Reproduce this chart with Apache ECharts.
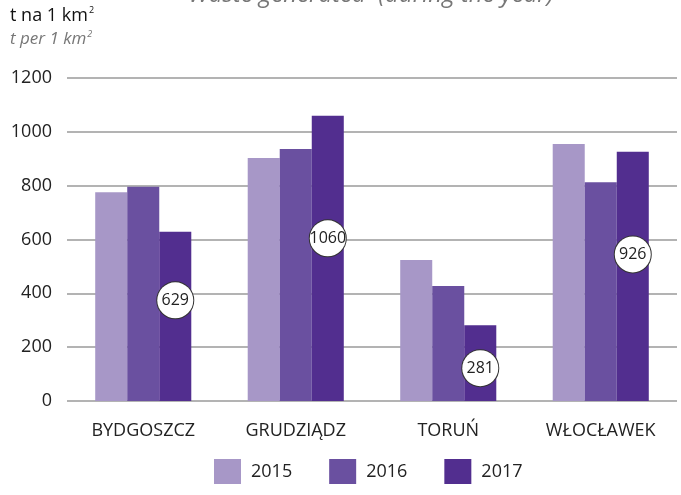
<!DOCTYPE html>
<html><head><meta charset="utf-8">
<script src="https://cdn.jsdelivr.net/npm/echarts@6/dist/echarts.min.js"></script>
<style>html,body{margin:0;padding:0;background:#fff}#c{width:681px;height:495px}</style>
</head><body><div id="c"></div>
<script>
const categories = ['BYDGOSZCZ', 'GRUDZIĄDZ', 'TORUŃ', 'WŁOCŁAWEK'];
const years = ['2015', '2016', '2017'];
const values2015 = [776, 903, 524, 955];
const values2016 = [796, 936, 427, 813];
const values2017 = [629, 1060, 281, 926];
const yTicks = [0, 200, 400, 600, 800, 1000, 1200];

const colors = ['#a797c7', '#6a50a0', '#522e8f'];
const labelOffsets = [-16, -20, 5, -22];
const font = 'Open Sans';

const chart = echarts.init(document.getElementById('c'), null, {renderer: 'canvas'});
const circleLabel = {
  show: true, position: 'inside', formatter: '{c}',
  color: '#222', fontFamily: font, fontSize: 16,
  backgroundColor: '#fff', borderColor: '#333', borderWidth: 1,
  borderRadius: 18, width: 36, height: 36, lineHeight: 36, align: 'center', padding: 0
};
const seriesVals = [values2015, values2016, values2017];
const series = years.map((y, i) => ({
  name: y, type: 'bar', barGap: 0, barCategoryGap: '37%',
  itemStyle: {color: colors[i]},
  data: i === 2 ? seriesVals[i].map((v, j) => ({value: v, label: Object.assign({}, circleLabel, {offset: [0, labelOffsets[j]]})})) : seriesVals[i]
}));

chart.setOption({
  animation: false,
  grid: {left: 67, right: 4, top: 78, bottom: 94},
  graphic: [
    {type: 'text', x: 371, y: 7, style: {text: 'Waste generated  (during the year)', font: 'italic 24px "Open Sans"', fill: '#777', textAlign: 'center', textVerticalAlign: 'bottom'}},
    {type: 'text', left: 10, top: 6, style: {text: '{a|t na 1 km}{s|2}', rich: {a: {fontFamily: font, fontSize: 18, fill: '#111'}, s: {fontFamily: font, fontSize: 9, fill: '#111', verticalAlign: 'top', padding: [0, 0, 10, 1]}}}},
    {type: 'text', left: 10, top: 30, style: {text: '{a|t per 1 km}{s|2}', rich: {a: {fontFamily: font, fontSize: 17, fontStyle: 'italic', fill: '#777'}, s: {fontFamily: font, fontSize: 9, fontStyle: 'italic', fill: '#777', verticalAlign: 'top', padding: [0, 0, 10, 1]}}}}
  ],
  legend: {
    bottom: 6, left: 209, itemWidth: 27, itemHeight: 25, itemGap: 37,
    icon: 'rect', textStyle: {fontFamily: font, fontSize: 18, color: '#222', padding: [0, 0, 0, 5]},
    data: years
  },
  xAxis: {
    type: 'category', data: categories,
    axisLine: {show: false}, axisTick: {show: false},
    axisLabel: {fontFamily: font, fontSize: 18, color: '#222', margin: 21}
  },
  yAxis: {
    type: 'value', min: 0, max: 1200, interval: 200,
    axisLine: {show: false}, axisTick: {show: false},
    axisLabel: {fontFamily: font, fontSize: 18, color: '#222', margin: 15, formatter: v => yTicks.includes(v) ? String(v) : ''},
    splitLine: {lineStyle: {color: '#9a9a9a', width: 1.5}}
  },
  series: series
});
</script></body></html>
